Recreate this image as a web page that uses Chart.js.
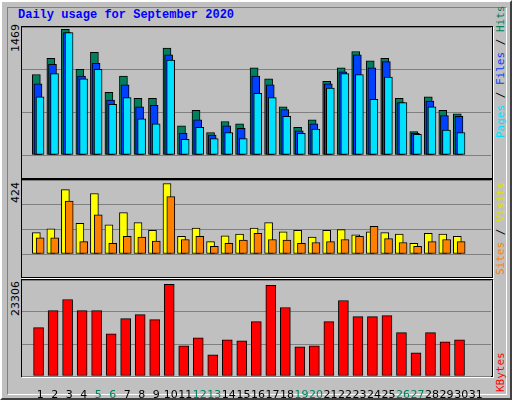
<!DOCTYPE html>
<html><head><meta charset="utf-8">
<script src="https://cdn.jsdelivr.net/npm/chart.js@4/dist/chart.umd.min.js"></script>
<style>
body{margin:0;background:#c0c0c0;}
#wrap{position:absolute;left:0;top:0;width:508px;height:396px;border:2px solid;border-color:#fff #404040 #404040 #fff;background:#c0c0c0;}
#inner{position:absolute;left:5px;top:5px;width:498px;height:386px;border:1px solid;border-color:#808080 #fff #fff #808080;}
.t{position:absolute;font-family:"Liberation Mono",monospace;font-weight:bold;font-size:12px;color:#0000ff;left:18px;top:8px;}
.box{position:absolute;border:1px solid #000;box-shadow:1px 1px 0 #fff;}
.cw{position:absolute;}
.rot{position:absolute;transform-origin:0 0;transform:rotate(-90deg);white-space:nowrap;font-family:"DejaVu Sans Mono",monospace;font-size:11px;}
.lab{position:absolute;transform-origin:0 0;transform:rotate(-90deg);white-space:nowrap;font-family:"DejaVu Sans",sans-serif;font-size:11px;color:#000;}
</style></head><body>
<div id="wrap"><div id="inner"></div></div>
<div class="t">Daily usage for September 2020</div>
<div class="box" style="left:21px;top:26px;width:470px;height:151px"></div>
<div class="box" style="left:21px;top:179px;width:470px;height:97px"></div>
<div class="box" style="left:21px;top:279px;width:470px;height:96px"></div>
<div class="cw" style="left:22px;top:27px;width:469px;height:150px"><canvas id="c1"></canvas></div>
<div class="cw" style="left:22px;top:180px;width:469px;height:96px"><canvas id="c2"></canvas></div>
<div class="cw" style="left:22px;top:280px;width:469px;height:118px"><canvas id="c3"></canvas></div>
<div class="lab" style="left:9px;top:52px">1469</div>
<div class="lab" style="left:9px;top:203px">424</div>
<div class="lab" style="left:9px;top:316px">23306</div>
<div class="rot" style="left:494px;top:138px"><span style="color:#00e0ff">Pages</span> / <span style="color:#0040ff">Files</span> / <span style="color:#00805c">Hits</span></div>
<div class="rot" style="left:494px;top:275px"><span style="color:#ff8000">Sites</span> / <span style="color:#e0e000">Visits</span></div>
<div class="rot" style="left:494px;top:392px"><span style="color:#ff0000">KBytes</span></div>
<script>
const days=['1','2','3','4','5','6','7','8','9','10','11','12','13','14','15','16','17','18','19','20','21','22','23','24','25','26','27','28','29','30','31'];
const weekend=['5','6','12','13','19','20','26','27'];
const hits=[941,1130,1469,1001,1199,731,921,662,662,1250,342,521,263,392,363,1020,891,562,323,412,861,1020,1210,1100,1130,662,273,681,521,482,0];
const files=[831,1060,1430,921,1070,642,821,562,581,1170,253,412,233,342,313,921,821,532,282,363,831,971,1170,1020,1091,612,253,631,462,452,0];
const pages=[681,951,1430,891,1001,592,671,423,363,1110,183,323,192,263,192,721,671,452,253,302,781,951,941,652,910,612,242,562,292,263,0];
const visits=[129,152,387,184,364,175,249,189,143,424,106,156,74,110,120,156,189,133,143,101,143,147,115,133,129,120,64,124,120,106,0];
const sites=[97,97,318,74,235,64,106,101,78,345,87,106,46,64,83,124,87,83,64,69,74,87,106,166,92,69,46,74,87,74,0];
const kbytes=[12293,16647,19464,16647,16647,10757,14598,15623,14342,23306,7683,9732,5378,9220,8964,13830,23050,17415,7427,7683,13830,19208,15110,15110,15367,11013,5891,11013,8708,9220,0];
const XMAX=469/15;
function ds(vals,off,color,w,order){return{data:vals.map((v,i)=>({x:i+off,y:v})),order:order,backgroundColor:color,borderColor:'#000',borderWidth:1,barThickness:w,grouped:false,borderSkipped:false};}
function yAxis(max){return{min:0,max:max,display:true,ticks:{display:false,stepSize:max/3},grid:{color:'#808080',lineWidth:1,drawTicks:false},border:{display:false},afterFit:s=>{s.width=0;}};}
function opts(max,showX){return{responsive:true,animation:false,maintainAspectRatio:false,layout:{padding:0},
 plugins:{legend:{display:false},tooltip:{enabled:false}},
 scales:{x:{type:'linear',min:0,max:XMAX,display:showX,grid:{display:false},border:{display:false},
   afterBuildTicks:s=>{s.ticks=days.map((d,i)=>({value:i+0.73}));},
   ticks:{autoSkip:false,maxRotation:0,minRotation:0,padding:5,font:{family:'DejaVu Sans',size:11},
     callback:(v,i)=>days[i],color:c=>weekend.includes(days[c.index])?'#00805c':'#000'},
   afterFit:s=>{s.height=22;}},
  y:yAxis(max)}};}
function mk(id,datasets,max,showX){return new Chart(document.getElementById(id),{type:'bar',data:{datasets},options:opts(max,showX)});}
mk('c1',[ds(hits,0.467,'#00805c',8,3),ds(files,0.58,'#0040ff',8,2),ds(pages,0.72,'#00e0ff',8,1)],1496,false);
mk('c2',[ds(visits,0.467,'#ffff00',8,2),ds(sites,0.73,'#ff8000',8,1)],445,false);
mk('c3',[ds(kbytes,0.62,'#ff0000',10,1)],24416,true);
</script></body></html>
